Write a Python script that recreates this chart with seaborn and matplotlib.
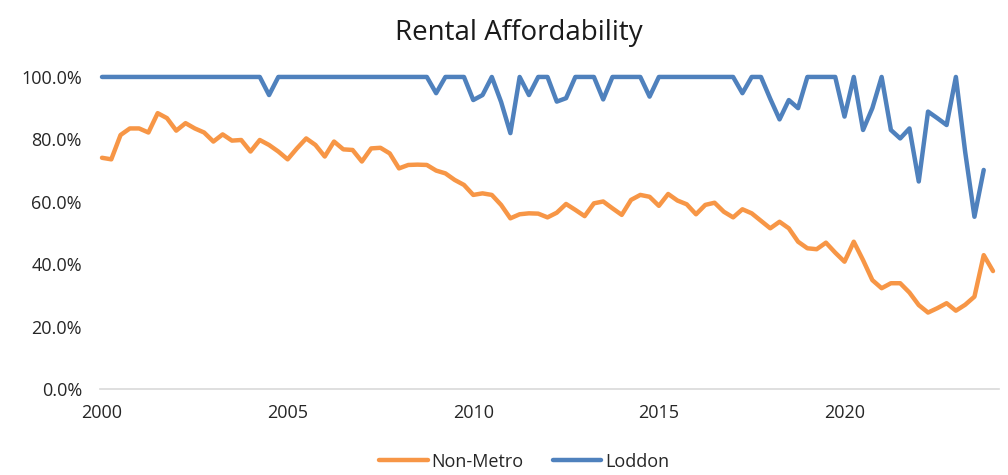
import numpy as np
import pandas as pd
import seaborn as sns
import matplotlib.pyplot as plt
from matplotlib.ticker import PercentFormatter

# Quarterly series, 2000 Q1 onwards (percent)
non_metro = [74.1, 73.6, 81.4, 83.5, 83.5, 82.2, 88.4, 86.8, 82.8, 85.2,
             83.5, 82.2, 79.3, 81.6, 79.6, 79.8, 76.1, 79.8, 78.2, 76.1,
             73.6, 77.1, 80.3, 78.2, 74.5, 79.3, 76.8, 76.6, 72.9, 77.1,
             77.3, 75.5, 70.7, 71.8, 71.9, 71.8, 70.0, 69.1, 67.0, 65.4,
             62.2, 62.7, 62.2, 59.0, 54.7, 56.0, 56.3, 56.2, 55.0, 56.5,
             59.3, 57.4, 55.4, 59.5, 60.1, 57.9, 55.8, 60.6, 62.2, 61.6,
             58.7, 62.5, 60.4, 59.2, 56.0, 59.0, 59.7, 56.8, 55.0, 57.6,
             56.3, 53.9, 51.5, 53.6, 51.5, 47.2, 45.1, 44.8, 46.9, 43.7,
             40.8, 47.2, 41.3, 34.9, 32.3, 33.9, 33.9, 30.9, 26.9, 24.5,
             25.9, 27.5, 25.1, 27.0, 29.6, 42.9, 37.8]

loddon = [100, 100, 100, 100, 100, 100, 100, 100, 100, 100,
          100, 100, 100, 100, 100, 100, 100, 100, 94.2, 100,
          100, 100, 100, 100, 100, 100, 100, 100, 100, 100,
          100, 100, 100, 100, 100, 100, 94.8, 100, 100, 100,
          92.6, 94.2, 100, 92.0, 82.0, 100, 94.2, 100, 100, 92.1,
          93.2, 100, 100, 100, 92.8, 100, 100, 100, 100, 93.7,
          100, 100, 100, 100, 100, 100, 100, 100, 100, 94.8,
          100, 100, 93.0, 86.4, 92.6, 90.0, 100, 100, 100, 100,
          87.3, 100, 83.0, 90.0, 100, 83.0, 80.3, 83.5, 66.5, 88.9,
          86.8, 84.6, 100, 76.0, 55.2, 70.2]

years = 2000 + np.arange(len(non_metro)) / 4

df = pd.concat([
    pd.DataFrame({"year": years, "value": np.array(non_metro) / 100, "series": "Non-Metro"}),
    pd.DataFrame({"year": years[:len(loddon)], "value": np.array(loddon) / 100, "series": "Loddon"}),
])

sns.set_style("white")
plt.rcParams["font.family"] = ["Open Sans", "DejaVu Sans"]

fig = plt.figure(figsize=(10.08, 4.75), dpi=100)
ax = fig.add_axes([0.0992, 0.181, 0.892, 0.657])

sns.lineplot(data=df, x="year", y="value", hue="series",
             palette={"Non-Metro": "#F79646", "Loddon": "#4F81BD"},
             linewidth=3.2, ax=ax, legend=False, clip_on=False)

ax.set_xlim(1999.946, 2024.165)
ax.set_ylim(0, 1.0)
ax.set_xticks([2000, 2005, 2010, 2015, 2020])
ax.set_yticks(np.arange(0, 1.01, 0.2))
ax.yaxis.set_major_formatter(PercentFormatter(1.0, decimals=1))
ax.tick_params(axis="both", length=0, labelsize=13, colors="#262626")
ax.tick_params(axis="y", pad=13)
ax.tick_params(axis="x", pad=11)
ax.set_xlabel("")
ax.set_ylabel("")
for side in ["top", "right", "left"]:
    ax.spines[side].set_visible(False)
ax.spines["bottom"].set_color("#D9D9D9")
ax.spines["bottom"].set_linewidth(1.2)

fig.text(0.515, 0.93, "Rental Affordability", ha="center", va="center",
         fontsize=20, color="#1a1a1a")

handles = [plt.Line2D([], [], color="#F79646", lw=3.2),
           plt.Line2D([], [], color="#4F81BD", lw=3.2)]
fig.legend(handles, ["Non-Metro", "Loddon"], loc="center", ncol=2,
           bbox_to_anchor=(0.52, 0.028), frameon=False, fontsize=13,
           handlelength=2.7, handletextpad=0.2, columnspacing=1.6)

fig.savefig("out.png", dpi=100)
